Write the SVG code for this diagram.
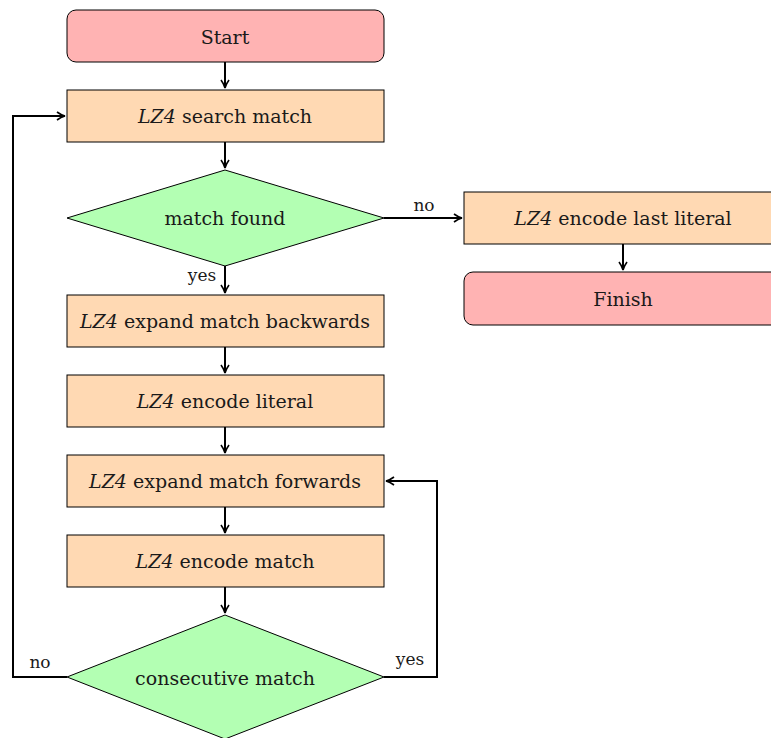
<svg xmlns="http://www.w3.org/2000/svg" width="771" height="738" viewBox="0 0 771 738">
<style>
.term{fill:#ffb3b3;stroke:#000;stroke-width:1}
.proc{fill:#ffd9b3;stroke:#000;stroke-width:1}
.dec{fill:#b3ffb3;stroke:#000;stroke-width:1}
text{font-family:"DejaVu Serif",serif;font-size:19px;fill:#1a1a1a;text-anchor:middle;dominant-baseline:central}
.lbl{font-size:17px}
.c{fill:none;stroke:#000;stroke-width:2}
</style>
<defs>
<marker id="ah" viewBox="0 0 10 10" refX="9" refY="5" markerWidth="10" markerHeight="10" orient="auto" markerUnits="userSpaceOnUse">
<path d="M1,1 Q5,4 9,5 Q5,6 1,9" fill="none" stroke="#000" stroke-width="1.6"/>
</marker>
</defs>
<rect width="771" height="738" fill="#fff"/>
<g id="connectors">
<path class="c" d="M225,62 V88" marker-end="url(#ah)"/>
<path class="c" d="M225,142 V168" marker-end="url(#ah)"/>
<path class="c" d="M384,218 H462" marker-end="url(#ah)"/>
<path class="c" d="M623,244 V270" marker-end="url(#ah)"/>
<path class="c" d="M225,266 V293" marker-end="url(#ah)"/>
<path class="c" d="M225,347 V373" marker-end="url(#ah)"/>
<path class="c" d="M225,427 V453" marker-end="url(#ah)"/>
<path class="c" d="M225,507 V533" marker-end="url(#ah)"/>
<path class="c" d="M225,587 V613" marker-end="url(#ah)"/>
<path class="c" d="M67,677 H13 V116 H65" marker-end="url(#ah)"/>
<path class="c" d="M384,677 H437 V481 H386" marker-end="url(#ah)"/>
<text class="lbl" x="424" y="205">no</text>
<text class="lbl" x="202" y="275">yes</text>
<text class="lbl" x="40" y="662">no</text>
<text class="lbl" x="410" y="659">yes</text>
</g>
<g id="start"><rect class="term" x="67" y="10" width="317" height="52" rx="9"/><text x="225" y="37">Start</text></g>
<g id="search"><rect class="proc" x="67" y="90" width="317" height="52"/><text x="225" y="116"><tspan font-style="italic">LZ4</tspan> search match</text></g>
<g id="found"><polygon class="dec" points="225,170 384,218 225,266 67,218"/><text x="225" y="218">match found</text></g>
<g id="lastlit"><rect class="proc" x="464" y="192" width="318" height="52"/><text x="623" y="218"><tspan font-style="italic">LZ4</tspan> encode last literal</text></g>
<g id="finish"><rect class="term" x="464" y="272" width="318" height="53" rx="9"/><text x="623" y="299">Finish</text></g>
<g id="backwards"><rect class="proc" x="67" y="295" width="317" height="52"/><text x="225" y="321"><tspan font-style="italic">LZ4</tspan> expand match backwards</text></g>
<g id="literal"><rect class="proc" x="67" y="375" width="317" height="52"/><text x="225" y="401"><tspan font-style="italic">LZ4</tspan> encode literal</text></g>
<g id="forwards"><rect class="proc" x="67" y="455" width="317" height="52"/><text x="225" y="481"><tspan font-style="italic">LZ4</tspan> expand match forwards</text></g>
<g id="encmatch"><rect class="proc" x="67" y="535" width="317" height="52"/><text x="225" y="561"><tspan font-style="italic">LZ4</tspan> encode match</text></g>
<g id="consec"><polygon class="dec" points="225,615 384,677 225,739 67,677"/><text x="225" y="678">consecutive match</text></g>
</svg>
